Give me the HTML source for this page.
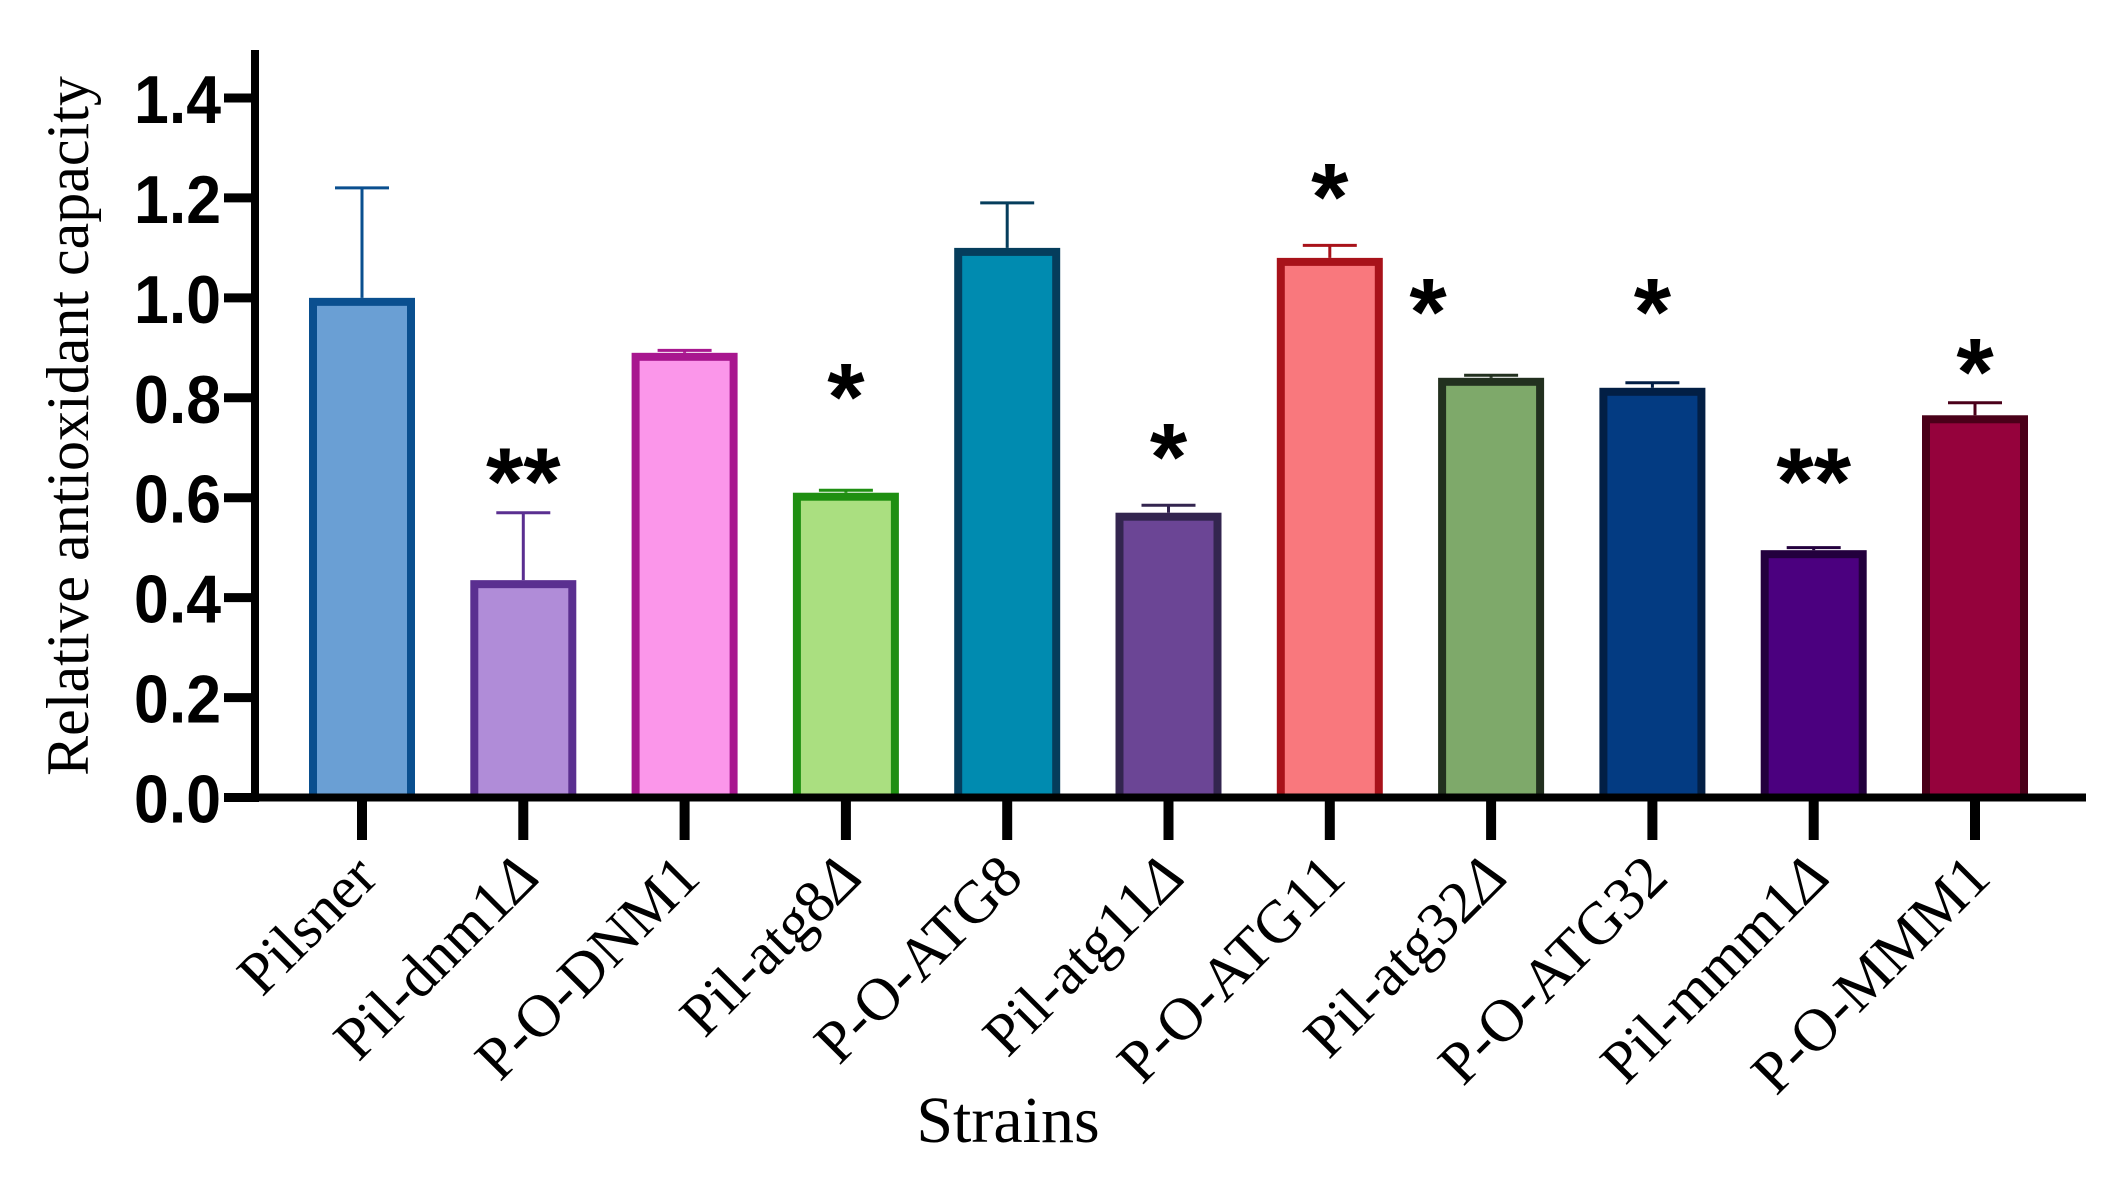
<!DOCTYPE html>
<html><head><meta charset="utf-8"><style>
html,body{margin:0;padding:0;background:#fff;}
svg{display:block;}
</style></head><body>
<svg id="chart" width="2102" height="1193" viewBox="0 0 2102 1193" xmlns="http://www.w3.org/2000/svg">
<g id="bars"></g>
<g id="axes"></g>
</svg>
<script>
const categories = ["Pilsner","Pil-dnm1","P-O-DNM1","Pil-atg8","P-O-ATG8","Pil-atg11","P-O-ATG11","Pil-atg32","P-O-ATG32","Pil-mmm1","P-O-MMM1"];
const deletion = [false,true,false,true,false,true,false,true,false,true,false];
const values = [1.0,0.435,0.89,0.61,1.10,0.57,1.08,0.84,0.82,0.495,0.765];
const errors = [0.22,0.135,0.005,0.005,0.09,0.015,0.025,0.005,0.01,0.005,0.025];
const signif = ["","**","","*","","*","*","*","*","**","*"];
const starLevel = [0,0.67,0,0.84,0,0.72,1.24,1.01,1.01,0.67,0.89];
const yTicks = ["0.0","0.2","0.4","0.6","0.8","1.0","1.2","1.4"];
const fills = ["#6a9fd4","#b08cd8","#fb96ea","#aadf80","#008bb0","#6b4595","#f9787d","#7ea96a","#033b82","#4b007f","#95023c"];
const strokes = ["#0a4f8f","#5a2f90","#a8178f","#1f8f12","#053d5c","#33254f","#a8121a","#22301f","#021f45","#23003d","#4a0019"];

const NS="http://www.w3.org/2000/svg";
const y0=797.5, pxPerUnit=(797.5-98)/1.4;
const yScale=v=>y0-v*pxPerUnit;
const x0=362, step=161.3;
const xScale=i=>x0+i*step;
const barW=106;
function mk(tag,attrs,parent){const e=document.createElementNS(NS,tag);for(const k in attrs)e.setAttribute(k,attrs[k]);parent.appendChild(e);return e;}
const bars=document.getElementById('bars'), axes=document.getElementById('axes');

categories.forEach((c,i)=>{
  const cx=xScale(i), top=yScale(values[i]), et=yScale(values[i]+errors[i]);
  const eb=mk('line',{x1:cx,x2:cx,y1:top,y2:et,stroke:strokes[i],'stroke-width':3},bars);
  
  
  const cap=mk('line',{x1:cx-27,x2:cx+27,y1:et,y2:et,stroke:strokes[i],'stroke-width':3},bars);
  
  
  const r=mk('rect',{x:cx-barW/2+4,y:top+4,width:barW-8,height:y0-top-4,fill:fills[i],stroke:strokes[i],'stroke-width':8},bars);
  
  
  if(signif[i]){
    let sx=cx;
    if(i===7){sx=cx-63;}
    const sy=yScale(starLevel[i]);
    const t=mk('text',{x:sx,y:sy+52,'text-anchor':'middle','font-family':'Liberation Sans, sans-serif','font-weight':'bold','font-size':96},bars);
    t.textContent=signif[i];
    
    
  }
  const tk=mk('line',{x1:cx,x2:cx,y1:y0,y2:840,stroke:'#000','stroke-width':10},axes);
  
  
  const lx=cx+18, ly=880;
  const lt=mk('text',{x:lx,y:ly,'text-anchor':'end','font-family':'Liberation Serif, serif','font-size':60,transform:`rotate(-45 ${lx} ${ly})`},axes);
  lt.textContent=c;
  if(deletion[i]){const ts=mk('tspan',{'font-style':'italic'},lt);ts.textContent='\u0394';}
  
  
});

yTicks.forEach((t,i)=>{
  const y=yScale(parseFloat(t));
  const l=mk('line',{x1:224,x2:256,y1:y,y2:y,stroke:'#000','stroke-width':9},axes);
  
  
  const tx=mk('text',{x:221,y:y+25,'text-anchor':'end','font-family':'Liberation Sans, sans-serif','font-weight':'bold','font-size':68,transform:`translate(221 0) scale(0.92 1) translate(-221 0)`},axes);
  tx.textContent=t;
  
  
});
const ya=mk('line',{x1:255,x2:255,y1:50,y2:802,stroke:'#000','stroke-width':8},axes);


const xa=mk('line',{x1:251,x2:2086,y1:y0,y2:y0,stroke:'#000','stroke-width':8},axes);


const yt=mk('text',{x:88,y:426,'text-anchor':'middle','font-family':'Liberation Serif, serif','font-size':60,transform:'rotate(-90 88 426)'},axes);
yt.textContent='Relative antioxidant capacity';


const xt=mk('text',{x:1008,y:1142,'text-anchor':'middle','font-family':'Liberation Serif, serif','font-size':66},axes);
xt.textContent='Strains';


</script>
</body></html>
